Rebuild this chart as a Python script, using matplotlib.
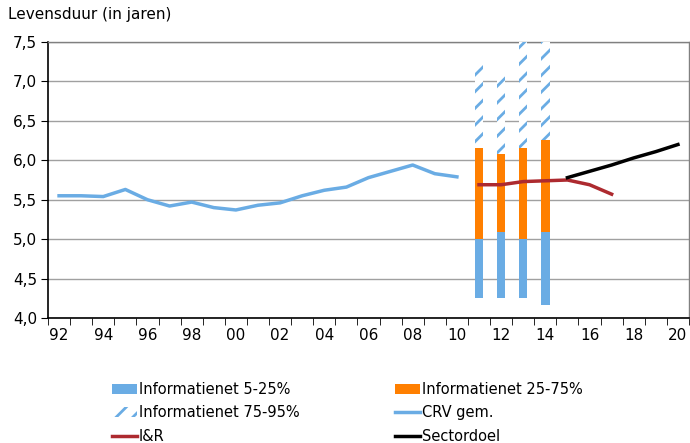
import matplotlib
matplotlib.use("Agg")
import matplotlib.pyplot as plt
from matplotlib.patches import Patch
from matplotlib.lines import Line2D
import numpy as np

plt.rcParams['font.family'] = ['DejaVu Sans']
plt.rcParams['hatch.linewidth'] = 2.0

years = list(range(1992, 2021))
tick_labels = ["92", "94", "96", "98", "00", "02", "04", "06", "08", "10",
               "12", "14", "16", "18", "20"]

crv_years = list(range(1992, 2011))
crv_vals = [5.55, 5.55, 5.54, 5.63, 5.50, 5.42, 5.47, 5.40, 5.37, 5.43,
            5.46, 5.55, 5.62, 5.66, 5.78, 5.86, 5.94, 5.83, 5.79]

bar_years = [2011, 2012, 2013, 2014]
p5 = [4.25, 4.25, 4.25, 4.17]
p25 = [5.00, 5.09, 5.00, 5.09]
p75 = [6.16, 6.08, 6.16, 6.26]
p95 = [7.25, 7.10, 7.60, 7.60]

ir_years = [2011, 2012, 2013, 2014, 2015, 2016, 2017]
ir_vals = [5.69, 5.69, 5.73, 5.74, 5.75, 5.69, 5.57]

sd_years = [2015, 2016, 2017, 2018, 2019, 2020]
sd_vals = [5.78, 5.86, 5.94, 6.03, 6.11, 6.20]

BLUE = '#6AACE4'
ORANGE = '#FF7F00'
RED = '#AD2A2F'

fig = plt.figure(figsize=(6.9, 4.43), dpi=100)
ax = fig.add_axes([48/690, (443-318)/443, (689-48)/690, (318-42)/443])

def idx(ys):
    return [y - 1992 for y in ys]

bx = np.array(idx(bar_years))
w = 0.38
ax.bar(bx, np.array(p25) - np.array(p5), bottom=p5, width=w, color=BLUE, zorder=3)
ax.bar(bx, np.array(p75) - np.array(p25), bottom=p25, width=w, color=ORANGE, zorder=3)
ax.bar(bx, np.array(p95) - np.array(p75), bottom=p75, width=w, facecolor='white',
       edgecolor=BLUE, linewidth=0, hatch='//', zorder=3)

ax.plot(idx(crv_years), crv_vals, color=BLUE, lw=2.5, zorder=4)
ax.plot(idx(ir_years), ir_vals, color=RED, lw=2.5, zorder=4)
ax.plot(idx(sd_years), sd_vals, color='black', lw=2.5, zorder=4)

ax.set_xlim(-0.5, len(years) - 0.5)
ax.set_ylim(4.0, 7.5)
yt = np.arange(4.0, 7.51, 0.5)
ax.set_yticks(yt)
ax.set_yticklabels([f"{v:.1f}".replace('.', ',') for v in yt], fontsize=11)
ax.yaxis.grid(True, color='#A0A0A0', lw=1, zorder=0)
ax.set_xticks(np.arange(0, len(years), 2))
ax.set_xticklabels(tick_labels, fontsize=11)
ax.set_xticks(np.arange(-0.5, len(years), 1), minor=True)
ax.tick_params(axis='x', which='major', length=0, pad=7)
ax.tick_params(axis='x', which='minor', length=5, direction='out', color='black')
ax.tick_params(axis='y', length=5, direction='out', pad=3)
for s in ['left', 'bottom']:
    ax.spines[s].set_color('black')
    ax.spines[s].set_linewidth(1.2)
for s in ['top', 'right']:
    ax.spines[s].set_color('#808080')
    ax.spines[s].set_linewidth(1.0)
ax.set_axisbelow(True)

fig.text(8/690, 1 - 15/443, "Levensduur (in jaren)", fontsize=11, va='center', ha='left')

h1 = [
    Patch(facecolor=BLUE, edgecolor='none'),
    Patch(facecolor='white', edgecolor=BLUE, linewidth=0, hatch='//'),
    Line2D([], [], color=RED, lw=2.5),
]
l1 = ["Informatienet 5-25%", "Informatienet 75-95%", "I&R"]
h2 = [
    Patch(facecolor=ORANGE, edgecolor='none'),
    Line2D([], [], color=BLUE, lw=2.5),
    Line2D([], [], color='black', lw=2.5),
]
l2 = ["Informatienet 25-75%", "CRV gem.", "Sectordoel"]
common = dict(loc='upper left', frameon=False, fontsize=10.5, handlelength=1.7,
              handletextpad=0.15, labelspacing=0.58, borderaxespad=0, borderpad=0)
fig.legend(h1, l1, bbox_to_anchor=(112/690, 1 - 382/443), **common)
fig.legend(h2, l2, bbox_to_anchor=(395/690, 1 - 382/443), **common)

fig.savefig("out.png", dpi=100)
